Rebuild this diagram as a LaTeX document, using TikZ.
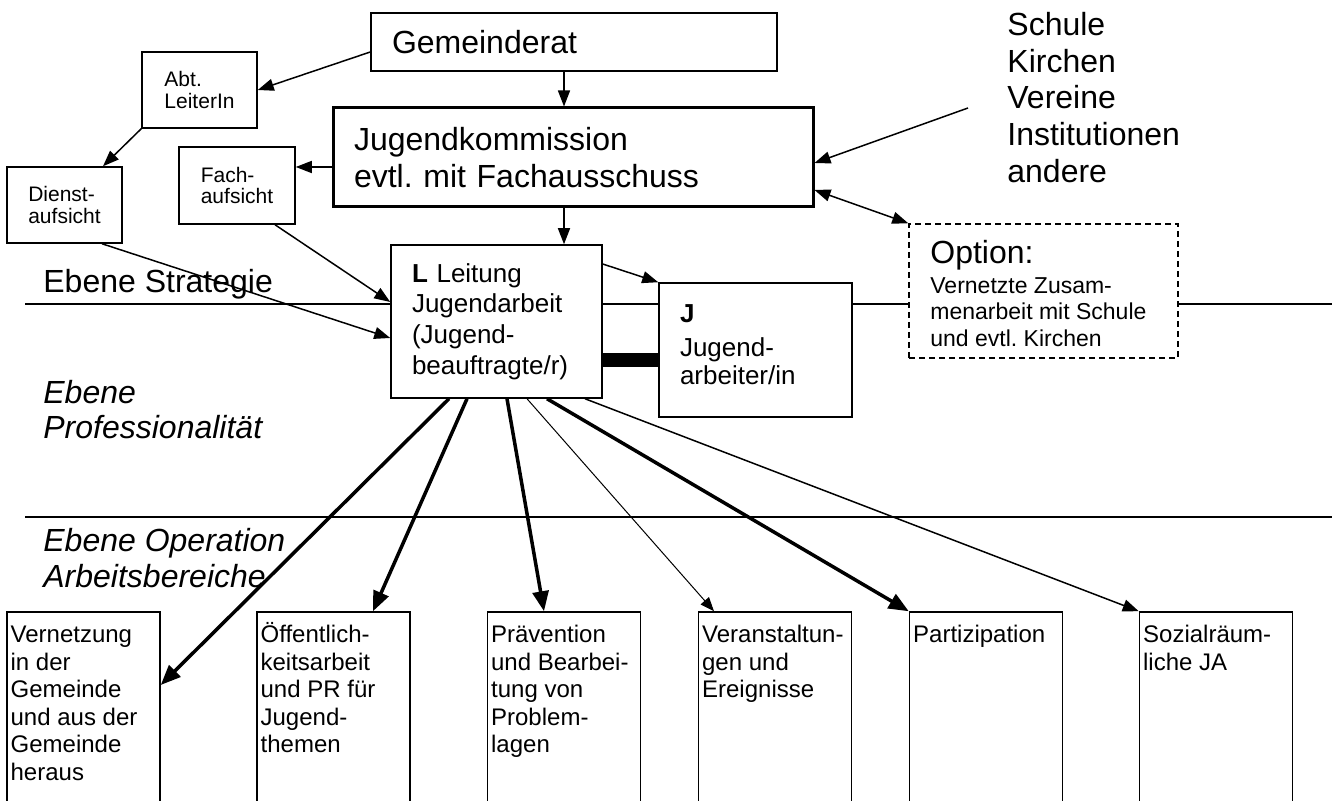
\documentclass[tikz,border=0pt]{standalone}
\usepackage{fontspec}
\setmainfont{Liberation Sans}
\usetikzlibrary{arrows.meta,calc}
\frenchspacing
\begin{document}
\begin{tikzpicture}[x=0.5pt,y=-0.5pt,
  box/.style={draw,line width=0.75pt,fill=white,inner sep=0pt},
  big/.style={font=\fontsize{16}{18.35}\selectfont},
  sm/.style={font=\fontsize{10.5}{10.75}\selectfont,align=left},
  btxt/.style={anchor=north west,inner sep=0pt,align=left,font=\fontsize{12}{13.75}\selectfont},
  bbox/.style={box,minimum width=76.5pt,minimum height=109pt},
  lvl/.style={line width=0.75pt},
  arr/.style={line width=0.75pt,-{Triangle[length=8pt,width=6pt]}},
  thk/.style={line width=1.75pt,-{Triangle[length=10pt,width=8pt]}},
  thn/.style={line width=0.5pt,-{Triangle[length=7pt,width=5.5pt]}}
]
\useasboundingbox (0,0) rectangle (1340,801);
\clip (0,0) rectangle (1340,801);

% level lines
\draw[lvl] (25,304) -- (1332,304);
\draw[lvl] (25,517) -- (1332,517);

% top boxes
\node[box,big,minimum width=203pt,minimum height=29pt,text width=182pt,inner xsep=10.5pt,align=left] (gr) at (574,42) {Gemeinderat};
\node[box,big,line width=1.5pt,minimum height=49.5pt,text width=219pt,inner xsep=10.5pt,align=left] (jk) at (573,157.5) {Jugendkommission\\evtl. mit Fachausschuss};
\node[box,sm,minimum width=57.5pt,minimum height=38pt] (abt) at (199.5,90) {Abt.\\LeiterIn};
\node[box,sm,minimum width=57.5pt,minimum height=38pt] (dienst) at (64.5,205) {Dienst-\\aufsicht};
\node[box,sm,minimum width=58pt,minimum height=38.5pt] (fach) at (237,185.5) {Fach-\\aufsicht};

% L and J
\node[box,text width=84.5pt,inner xsep=10.5pt,minimum height=76.5pt,align=left,font=\fontsize{13}{15.3}\selectfont] (L) at (496.5,321.5) {\textbf{L} Leitung\\Jugendarbeit\\(Jugend-\\beauftragte/r)};
\node[box,text width=75.5pt,inner xsep=10.5pt,minimum height=67pt,align=left,font=\fontsize{13}{14}\selectfont] (J) at (755.5,350) {\textbf{J}\\[3pt]Jugend-\\arbeiter/in\rule[-5.5pt]{0pt}{5.5pt}};

% option
\node[box,dash pattern=on 3pt off 2pt,minimum width=134.5pt,minimum height=67pt] (opt) at (1043.5,291) {};
\begin{scope}
\clip (opt.north west) rectangle ([yshift=5.5pt]opt.south east);
\node[anchor=north west,inner sep=0pt,align=left,font=\fontsize{11.5}{13.25}\selectfont] (optt) at (930,237) {{\fontsize{16}{18}\selectfont\rule{0pt}{13pt}Option:}\\[1.75pt]Vernetzte Zusam-\\menarbeit mit Schule\\und evtl. Kirchen};
\end{scope}

% external list
\node[anchor=north west,inner sep=0pt,align=left,big] (ext) at (1007,9) {\rule{0pt}{13pt}Schule\\Kirchen\\Vereine\\Institutionen\\andere};
\coordinate (extp) at (968,108);

% level labels
\node[anchor=base west,inner sep=0pt,big] (lstr) at (43,293) {Ebene Strategie};
\node[anchor=north west,inner sep=0pt,align=left,font=\fontsize{16}{17.5}\selectfont\itshape] (lprof) at (43,377) {\rule{0pt}{13pt}Ebene\\Professionalität};
\node[anchor=north west,inner sep=0pt,align=left,font=\fontsize{16}{18}\selectfont\itshape] (lop) at (43,525) {\rule{0pt}{13pt}Ebene Operation\\Arbeitsbereiche};

% bottom boxes
\node[bbox] (b1) at (83.5,721) {};
\node[bbox] (b2) at (333.5,721) {};
\node[bbox] (b3) at (564,721) {};
\node[bbox] (b4) at (775,721) {};
\node[bbox] (b5) at (986,721) {};
\node[bbox] (b6) at (1216,721) {};
\node[btxt] (t1) at ([xshift=2pt,yshift=-3.5pt]b1.north west) {\rule{0pt}{12pt}Vernetzung\\in der\\Gemeinde\\und aus der\\Gemeinde\\heraus};
\node[btxt] (t2) at ([xshift=2pt,yshift=-3.5pt]b2.north west) {\rule{0pt}{12pt}Öffentlich-\\keitsarbeit\\und PR für\\Jugend-\\themen};
\node[btxt] (t3) at ([xshift=2pt,yshift=-3.5pt]b3.north west) {\rule{0pt}{12pt}Prävention\\und Bearbei-\\tung von\\Problem-\\lagen};
\node[btxt] (t4) at ([xshift=2pt,yshift=-3.5pt]b4.north west) {\rule{0pt}{12pt}Veranstaltun-\\gen und\\Ereignisse};
\node[btxt] (t5) at ([xshift=2pt,yshift=-3.5pt]b5.north west) {\rule{0pt}{12pt}Partizipation};
\node[btxt] (t6) at ([xshift=2pt,yshift=-3.5pt]b6.north west) {\rule{0pt}{12pt}Sozialräum-\\liche JA};

% upper connectors
\draw[arr] ([yshift=-5pt]gr.west) -- (abt.east);
\draw[arr] (abt.south west) -- ([xshift=19.25pt]dienst.north);
\draw[arr] ([xshift=-5pt]gr.south) -- ([xshift=-5pt]gr.south |- jk.north);
\draw[arr] ([yshift=-4.75pt]jk.west) -- ([yshift=-4.75pt]jk.west -| fach.east);
\draw[arr] ([xshift=-4.5pt]jk.south) -- ([xshift=-4.5pt]jk.south |- L.north);
\draw[arr] (extp) -- ([yshift=-2.75pt]jk.east);
\draw[line width=0.75pt,{Triangle[length=8pt,width=6pt]}-{Triangle[length=8pt,width=6pt]}] ([yshift=-16.25pt]jk.east) -- (opt.north west);
\draw[arr] ([xshift=19pt]fach.south) -- ([yshift=9.75pt]L.west);
\draw[arr] ([xshift=18.75pt]dienst.south) -- ([yshift=-8.25pt]L.west);
\draw[arr] ([yshift=28.75pt]L.east) -- (J.north west);
\draw[line width=7pt] ([yshift=-19.25pt]L.east) -- ([yshift=-19.25pt]L.east -| J.west);

% lower connectors
\draw[thk] ([xshift=-23.75pt]L.south) -- ([yshift=18pt]b1.east);
\draw[thk] ([xshift=-14.75pt]L.south) -- ([xshift=19.75pt]b2.north);
\draw[thk] ([xshift=5.25pt]L.south) -- ([xshift=-10pt]b3.north);
\draw[thn] ([xshift=15.25pt]L.south) -- ([xshift=-30.5pt]b4.north);
\draw[thk] ([xshift=25.25pt]L.south) -- (b5.north west);
\draw[arr] ([xshift=44.25pt]L.south) -- (b6.north west);
\end{tikzpicture}
\end{document}
